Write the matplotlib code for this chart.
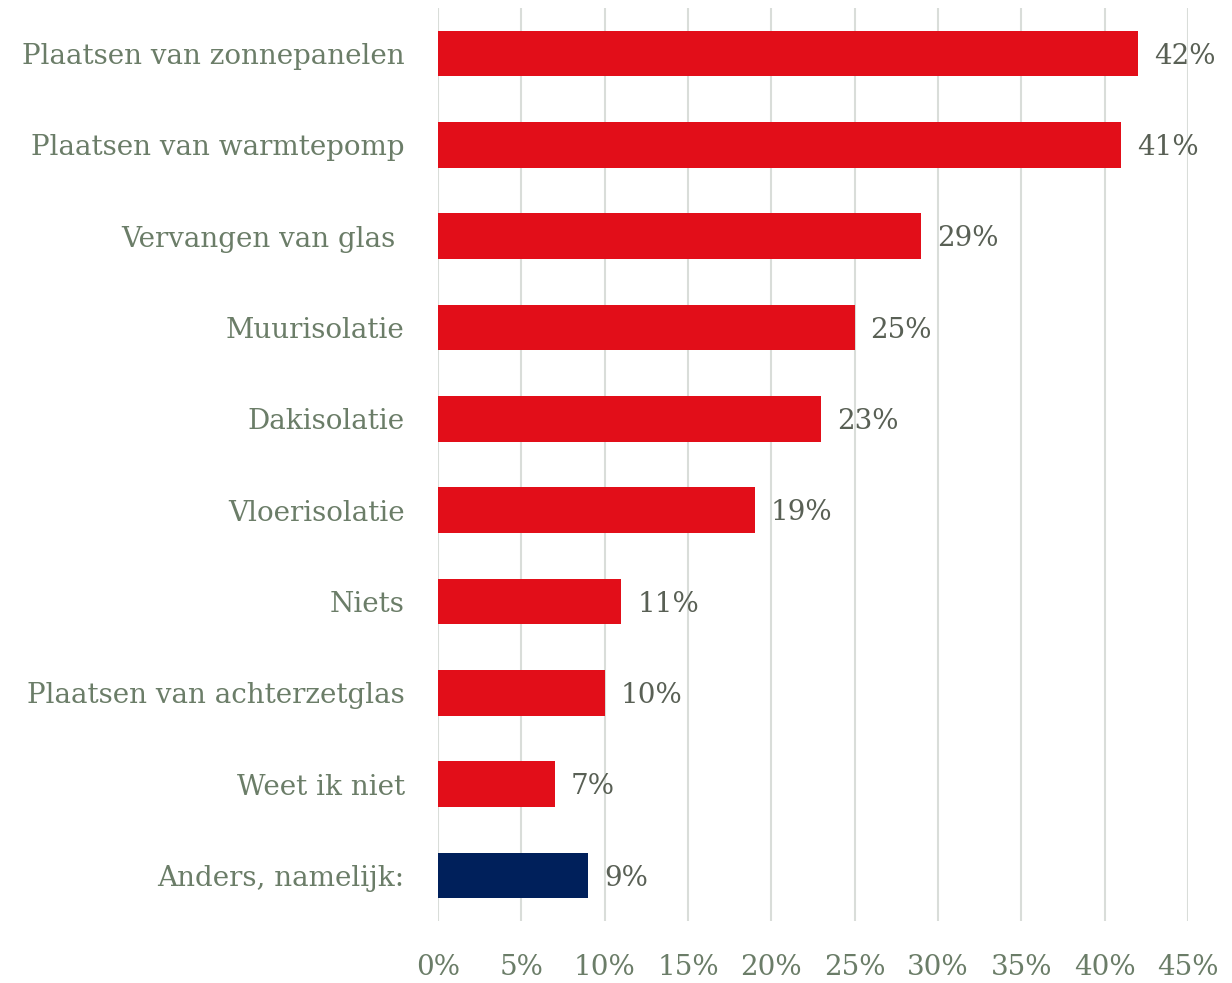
import numpy as np
import matplotlib
matplotlib.use("Agg")
import matplotlib.pyplot as plt
from matplotlib.ticker import FuncFormatter, MultipleLocator

# data (top to bottom)
categories = ["Plaatsen van zonnepanelen", "Plaatsen van warmtepomp", "Vervangen van glas ",
              "Muurisolatie", "Dakisolatie", "Vloerisolatie", "Niets",
              "Plaatsen van achterzetglas", "Weet ik niet", "Anders, namelijk:"]
values = [42, 41, 29, 25, 23, 19, 11, 10, 7, 9]
colors = ["#E20E19"] * 9 + ["#00205B"]

label_col = "#6B7D68"
value_col = "#596055"
plt.rcParams['font.family'] = ['DejaVu Serif']

fig = plt.figure(figsize=(12.32, 9.83), dpi=100, facecolor="w")
ax = fig.add_axes([438/1232, 1 - 921/983, 750/1232, 913/983])

fs = 20
y = np.arange(len(categories))
ax.barh(y, values, height=0.5, color=colors, zorder=3)
for yi, v in zip(y, values):
    ax.text(v + 0.95, yi + 0.03, f"{v}%", va="center", ha="left", fontsize=fs, color=value_col, zorder=4)

ax.set_xlim(0, 45)
ax.set_ylim(len(categories) - 0.5, -0.5)
ax.set_yticks(y)
ax.set_yticklabels(categories, fontsize=fs, color=label_col)
ax.xaxis.set_major_locator(MultipleLocator(5))
ax.xaxis.set_major_formatter(FuncFormatter(lambda v, p: f"{v:.0f}%"))
ax.tick_params(axis="x", labelsize=fs, labelcolor=label_col, length=0, pad=24)
ax.tick_params(axis="y", length=0, pad=24)
ax.grid(axis="x", color="#D9DDD9", linewidth=1.5, zorder=0)
for s in ax.spines.values():
    s.set_visible(False)

fig.savefig("out.png", dpi=100, facecolor="w")
